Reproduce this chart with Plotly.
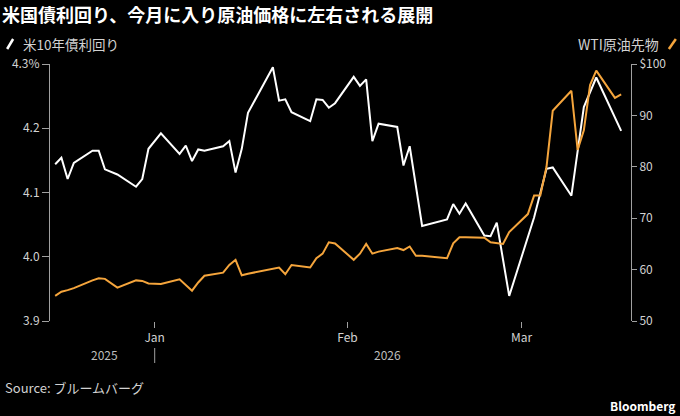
import plotly.graph_objects as go

# 米10年債利回り (%)
yield_dates = [
    "2025-12-16", "2025-12-17", "2025-12-18", "2025-12-19", "2025-12-22", "2025-12-23",
    "2025-12-24", "2025-12-26", "2025-12-29", "2025-12-30", "2025-12-31", "2026-01-02",
    "2026-01-05", "2026-01-06", "2026-01-07", "2026-01-08", "2026-01-09", "2026-01-12",
    "2026-01-13", "2026-01-14", "2026-01-15", "2026-01-16", "2026-01-20", "2026-01-21",
    "2026-01-22", "2026-01-23", "2026-01-26", "2026-01-27", "2026-01-28", "2026-01-29",
    "2026-01-30", "2026-02-02", "2026-02-03", "2026-02-04", "2026-02-05", "2026-02-06",
    "2026-02-09", "2026-02-10", "2026-02-11", "2026-02-12", "2026-02-13", "2026-02-17",
    "2026-02-18", "2026-02-19", "2026-02-20", "2026-02-23", "2026-02-24", "2026-02-25",
    "2026-02-27", "2026-03-03", "2026-03-05", "2026-03-06", "2026-03-09", "2026-03-11",
    "2026-03-13", "2026-03-17",
]
yield_values = [
    4.144, 4.154, 4.121, 4.146, 4.165, 4.165,
    4.136, 4.128, 4.109, 4.121, 4.168, 4.192,
    4.160, 4.173, 4.149, 4.167, 4.165, 4.172,
    4.180, 4.131, 4.168, 4.224, 4.295, 4.243,
    4.245, 4.225, 4.211, 4.245, 4.244, 4.232,
    4.239, 4.280, 4.266, 4.276, 4.180, 4.207,
    4.202, 4.142, 4.172, 4.110, 4.048, 4.058,
    4.082, 4.067, 4.083, 4.033, 4.032, 4.053,
    3.939, 4.061, 4.137, 4.139, 4.095, 4.233,
    4.279, 4.196,
]

# WTI原油先物 ($)
oil_dates = [
    "2025-12-16", "2025-12-17", "2025-12-18", "2025-12-19", "2025-12-22", "2025-12-23",
    "2025-12-24", "2025-12-26", "2025-12-29", "2025-12-30", "2025-12-31", "2026-01-02",
    "2026-01-05", "2026-01-06", "2026-01-07", "2026-01-08", "2026-01-09", "2026-01-12",
    "2026-01-13", "2026-01-14", "2026-01-15", "2026-01-16", "2026-01-20", "2026-01-21",
    "2026-01-22", "2026-01-23", "2026-01-26", "2026-01-27", "2026-01-28", "2026-01-29",
    "2026-01-30", "2026-02-02", "2026-02-03", "2026-02-04", "2026-02-05", "2026-02-06",
    "2026-02-09", "2026-02-10", "2026-02-11", "2026-02-12", "2026-02-13", "2026-02-17",
    "2026-02-18", "2026-02-19", "2026-02-20", "2026-02-23", "2026-02-24", "2026-02-25",
    "2026-02-26", "2026-02-27", "2026-03-02", "2026-03-03", "2026-03-04", "2026-03-05",
    "2026-03-06", "2026-03-09", "2026-03-10", "2026-03-11", "2026-03-12", "2026-03-13",
    "2026-03-16", "2026-03-17",
]
oil_values = [
    54.9, 55.7, 56.0, 56.4, 57.9, 58.3,
    58.2, 56.5, 57.9, 57.8, 57.3, 57.2,
    58.1, 57.0, 55.9, 57.5, 58.8, 59.4,
    60.9, 61.9, 58.9, 59.2, 60.2, 60.4,
    59.1, 60.9, 60.4, 62.2, 63.1, 65.3,
    65.1, 61.9, 63.1, 65.0, 63.1, 63.5,
    64.2, 63.8, 64.5, 62.7, 62.7, 62.2,
    65.1, 66.3, 66.3, 66.2, 65.3, 65.2,
    65.0, 67.3, 70.8, 74.4, 74.4, 80.0,
    90.9, 94.8, 83.3, 87.1, 95.9, 98.7,
    93.4, 94.1,
]

yield_ticks = [3.9, 4.0, 4.1, 4.2, 4.3]
yield_ticktext = ["3.9", "4.0", "4.1", "4.2", "4.3%"]
oil_ticks = [50, 60, 70, 80, 90, 100]
oil_ticktext = ["50", "60", "70", "80", "90", "$100"]
month_ticks = ["2026-01-01", "2026-02-01", "2026-03-01"]
month_labels = ["Jan", "Feb", "Mar"]

FONT = "Noto Sans CJK JP, Noto Sans, sans-serif"
WHITE = "#ffffff"
ORANGE = "#f5a53c"
GREY = "#a0a0a0"
LABEL = "#d2d2d2"

# plot area in pixels
L, R, T, B = 48, 49, 64, 95
W, H = 680 - L - R, 416 - T - B


def px(x):
    return (x - L) / W


def py(y):
    return (416 - B - y) / H


fig = go.Figure()

fig.add_trace(go.Scatter(
    x=oil_dates, y=oil_values, mode="lines", yaxis="y2",
    line=dict(color=ORANGE, width=2), name="WTI原油先物",
))
fig.add_trace(go.Scatter(
    x=yield_dates, y=yield_values, mode="lines",
    line=dict(color=WHITE, width=2), name="米10年債利回り",
))

annotations = [
    dict(text="米10年債利回り", x=px(19), y=py(44), xanchor="left", yanchor="middle",
         font=dict(size=13.5, color=LABEL)),
    dict(text="WTI原油先物", x=px(661), y=py(44), xanchor="right", yanchor="middle",
         font=dict(size=14, color=LABEL)),
    dict(text="2025", x=px(103), y=py(354), xanchor="center", yanchor="middle",
         font=dict(size=12, color="#bdbdbd")),
    dict(text="2026", x=px(387), y=py(354), xanchor="center", yanchor="middle",
         font=dict(size=12, color="#bdbdbd")),
    dict(text="Source: ブルームバーグ", x=px(1), y=py(387), xanchor="left", yanchor="middle",
         font=dict(size=13, color=LABEL)),
    dict(text="<b>Bloomberg</b>", x=px(678), y=py(405), xanchor="right", yanchor="middle",
         font=dict(size=12, color=WHITE)),
]
for a in annotations:
    a.update(xref="paper", yref="paper", showarrow=False)

shapes = [
    # legend swatches
    dict(type="line", x0=px(5), y0=py(49), x1=px(11), y1=py(39),
         line=dict(color=WHITE, width=2.5)),
    dict(type="line", x0=px(669), y0=py(49), x1=px(676), y1=py(39),
         line=dict(color=ORANGE, width=2.5)),
    # year divider
    dict(type="line", xref="x", x0="2026-01-01", x1="2026-01-01",
         y0=py(348), y1=py(363), line=dict(color=GREY, width=1)),
]
for s in shapes:
    s.setdefault("xref", "paper")
    s["yref"] = "paper"

fig.update_layout(
    width=680, height=416,
    margin=dict(l=L, r=R, t=T, b=B),
    paper_bgcolor="black", plot_bgcolor="black",
    font=dict(family=FONT, color=LABEL, size=12),
    showlegend=False,
    title=dict(text="<b>米国債利回り、今月に入り原油価格に左右される展開</b>",
               x=0.003, xanchor="left", y=1 - 16 / 416, yanchor="middle",
               font=dict(size=18, color=WHITE)),
    xaxis=dict(
        type="date", range=["2025-12-15 04:00", "2026-03-18 14:00"],
        tickvals=month_ticks, ticktext=month_labels,
        ticks="outside", ticklen=6, tickcolor=GREY,
        showgrid=False, zeroline=False, showline=False,
        tickfont=dict(size=12, color=LABEL),
    ),
    yaxis=dict(
        range=[3.9, 4.3], tickvals=yield_ticks, ticktext=yield_ticktext,
        ticks="outside", ticklen=7, tickcolor=GREY,
        showline=True, linecolor=GREY, linewidth=1,
        showgrid=False, zeroline=False,
        tickfont=dict(size=12, color=LABEL),
    ),
    yaxis2=dict(
        range=[50, 100], tickvals=oil_ticks, ticktext=oil_ticktext,
        overlaying="y", side="right",
        ticks="outside", ticklen=5, tickcolor=GREY,
        showline=True, linecolor=GREY, linewidth=1,
        showgrid=False, zeroline=False,
        tickfont=dict(size=12, color=LABEL),
    ),
    annotations=annotations,
    shapes=shapes,
)

# page body has a default 8px margin; drop it so the figure fills the window
fig.write_html("out.html", config={"displayModeBar": False},
               post_script="document.body.style.margin = '0';")
